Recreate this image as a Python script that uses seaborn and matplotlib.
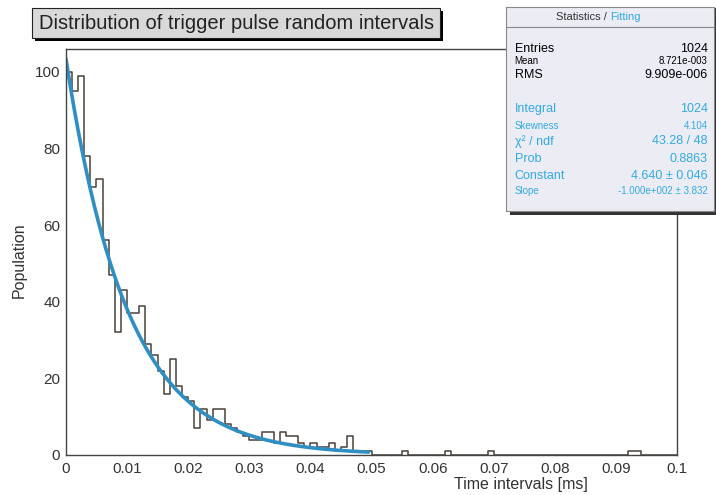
import numpy as np
import pandas as pd
import matplotlib
matplotlib.use('Agg')
import matplotlib.pyplot as plt
import seaborn as sns
from matplotlib.patches import Rectangle
from matplotlib.ticker import MultipleLocator

sns.set_theme(style='white')
plt.rcParams['font.family'] = ['Liberation Sans', 'DejaVu Sans']

# histogram: 100 bins of 0.001 ms between 0 and 0.1
bin_width = 0.001
counts = [100, 95, 99, 78, 70, 72, 56, 47, 32, 43,
          37, 37, 39, 29, 26, 22, 16, 25, 18, 15,
          14, 7, 12, 9, 12, 12, 8, 7, 6, 5,
          4, 4, 6, 6, 3, 6, 5, 5, 3, 2,
          3, 2, 2, 3, 1, 2, 5, 1, 1, 1,
          0, 0, 0, 0, 0, 1, 0, 0, 0, 0,
          0, 0, 1, 0, 0, 0, 0, 0, 0, 1,
          0, 0, 0, 0, 0, 0, 0, 0, 0, 0,
          0, 0, 0, 0, 0, 0, 0, 0, 0, 0,
          0, 0, 1, 1, 0, 0, 0, 0, 0, 0]

# exponential fit parameters, as shown in the stats box
fit_constant = 4.64
fit_slope = -100.0
fit_range = (0.0, 0.0495)

stat_rows = [('Entries', '1024', 'black', 9),
             ('Mean', '8.721e-003', 'black', 7),
             ('RMS', '9.909e-006', 'black', 9)]
fit_rows = [('Integral', '1024', 9),
            ('Skewness', '4.104', 7),
            ('\u03c7\u00b2 / ndf', '43.28 / 48', 9),
            ('Prob', '0.8863', 9),
            ('Constant', '4.640 \u00b1 0.046', 9),
            ('Slope', '-1.000e+002 \u00b1 3.832', 7)]

centers = (np.arange(len(counts)) + 0.5) * bin_width
hist_df = pd.DataFrame({'t': centers, 'n': counts})

fit_x = np.linspace(fit_range[0], fit_range[1], 300)
fit_df = pd.DataFrame({'t': fit_x, 'f': np.exp(fit_constant + fit_slope * fit_x)})

fig = plt.figure(figsize=(7.16, 4.95), dpi=100)
ax = fig.add_axes([0.092, 0.081, 0.854, 0.820])

sns.histplot(data=hist_df, x='t', weights='n', bins=len(counts),
             binrange=(0, len(counts) * bin_width), element='step',
             fill=False, color='#4a4038', linewidth=1.1, ax=ax)
sns.lineplot(data=fit_df, x='t', y='f', color='#2f8fc2', linewidth=2.6, ax=ax)

ax.set_xlim(0, 0.1)
ax.set_ylim(0, 106)
ax.xaxis.set_minor_locator(MultipleLocator(0.002))
ax.yaxis.set_major_locator(MultipleLocator(20))
ax.yaxis.set_minor_locator(MultipleLocator(5))
ax.set_xticks(np.arange(0, 0.1001, 0.01))
ax.set_xticklabels(['0', '0.01', '0.02', '0.03', '0.04', '0.05',
                    '0.06', '0.07', '0.08', '0.09', '0.1'])
ax.tick_params(which='both', direction='in', colors='#333333',
               labelcolor='#333333', labelsize=11, top=False, right=False)
ax.tick_params(which='major', length=9, width=0.9)
ax.tick_params(which='minor', length=4.5, width=0.8)
ax.tick_params(axis='x', pad=5)
ax.tick_params(axis='y', pad=4)
for s in ax.spines.values():
    s.set_color('#444444')
    s.set_linewidth(1.0)
ax.set_xlabel('')
ax.set_ylabel('')

fig.text(0.728, 0.022, 'Time intervals [ms]', ha='center', va='center',
         fontsize=11.5, color='#333333')
fig.text(0.027, 0.475, 'Population', ha='center', va='center', rotation=90,
         fontsize=11.5, color='#333333')

# title box with ROOT style shadow
fig.patches.append(Rectangle((0.049, 0.917), 0.570, 0.061, transform=fig.transFigure,
                             facecolor='black', edgecolor='none', zorder=1))
fig.patches.append(Rectangle((0.045, 0.923), 0.570, 0.061, transform=fig.transFigure,
                             facecolor='#d9d9d9', edgecolor='#222222', linewidth=0.8,
                             zorder=2))
fig.text(0.330, 0.953, 'Distribution of trigger pulse random intervals',
         ha='center', va='center', fontsize=14.5, color='#222222', zorder=3)

# statistics / fitting box
shadow = Rectangle((0.712, 0.566), 0.29, 0.418, transform=fig.transFigure,
                   facecolor='#333333', edgecolor='none', zorder=4)
fig.patches.append(shadow)
sb = fig.add_axes([0.707, 0.573, 0.29, 0.412])
sb.set_zorder(5)
sb.set_facecolor('#ececf5')
sb.set_xticks([])
sb.set_yticks([])
for s in sb.spines.values():
    s.set_color('#888888')
    s.set_linewidth(0.8)
sb.set_xlim(0, 1)
sb.set_ylim(0, 1)
sb.axhline(0.905, color='#888888', linewidth=0.8)
sb.text(0.5, 0.955, 'Statistics / ', ha='right', va='center', fontsize=8,
        color='#333333')
sb.text(0.5, 0.955, 'Fitting', ha='left', va='center', fontsize=8, color='#33aadd')

y_px = [50, 62, 76]
for (lab, val, col, fs), yp in zip(stat_rows, y_px):
    yy = 1 - (yp - 8) / 204
    sb.text(0.04, yy, lab, ha='left', va='center', fontsize=fs, color=col)
    sb.text(0.97, yy, val, ha='right', va='center', fontsize=fs, color=col)

y_px = [110, 127, 142, 160, 177, 192]
for (lab, val, fs), yp in zip(fit_rows, y_px):
    yy = 1 - (yp - 8) / 204
    sb.text(0.04, yy, lab, ha='left', va='center', fontsize=fs, color='#33aadd')
    sb.text(0.97, yy, val, ha='right', va='center', fontsize=fs, color='#33aadd')

fig.savefig('out.png', dpi=100)
